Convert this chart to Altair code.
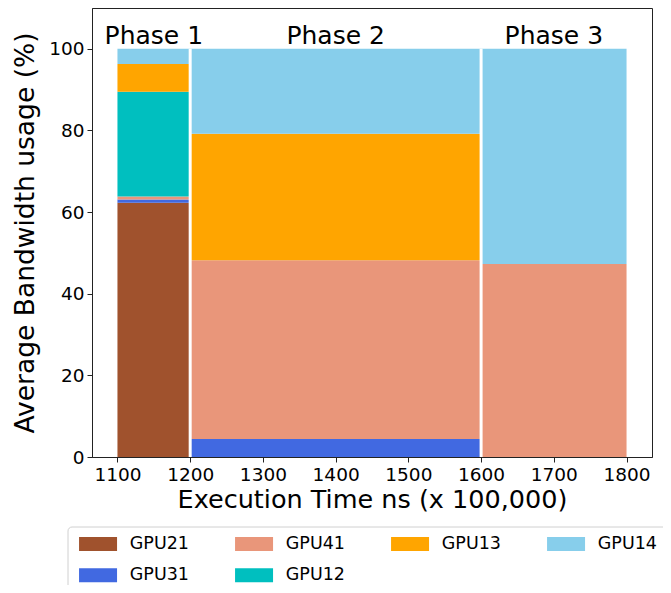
import altair as alt
import pandas as pd

# ---- data ----
phases = ["Phase 1", "Phase 2", "Phase 3"]
starts = [1100, 1200, 1600]
ends = [1200, 1600, 1800]
gpus = ["GPU21", "GPU31", "GPU41", "GPU12", "GPU13", "GPU14"]  # stack order (bottom -> top)
values = {
    "GPU21": [62.3, 0.0, 0.0],
    "GPU31": [0.8, 4.4, 0.0],
    "GPU41": [0.7, 43.8, 47.3],
    "GPU12": [25.7, 0.0, 0.0],
    "GPU13": [6.8, 31.0, 0.0],
    "GPU14": [3.7, 20.8, 52.7],
}
legend_order = ["GPU21", "GPU41", "GPU13", "GPU14", "GPU31", "GPU12"]
colors = {
    "GPU21": "#A0522D",
    "GPU31": "#4169E1",
    "GPU41": "#E9967A",
    "GPU12": "#00BFBF",
    "GPU13": "#FFA500",
    "GPU14": "#87CEEB",
}
x_ticks = [1100, 1200, 1300, 1400, 1500, 1600, 1700, 1800]
y_ticks = [0, 20, 40, 60, 80, 100]
boundaries = [1200, 1600]
label_y = 101.2

# ---- build tables ----
rows = []
for i, ph in enumerate(phases):
    base = 0.0
    for k, g in enumerate(gpus):
        v = values[g][i]
        if v > 0:
            rows.append(dict(phase=ph, gpu=g, order=k, x0=starts[i], x1=ends[i],
                             y0=base, y1=base + v))
        base += v
df = pd.DataFrame(rows)
lab = pd.DataFrame({"phase": phases,
                    "xm": [(a + b) / 2 for a, b in zip(starts, ends)]})
bnd = pd.DataFrame({"xb": boundaries})

xs = alt.Scale(domain=[1065, 1835], nice=False, zero=False)
ys = alt.Scale(domain=[0, 110], nice=False)

bars = alt.Chart(df).mark_rect(stroke=None).encode(
    x=alt.X("x0:Q", scale=xs,
            axis=alt.Axis(values=x_ticks, title="Execution Time ns (x 100,000)",
                          format="d", grid=False, titleFontSize=25.5)),
    x2="x1:Q",
    y=alt.Y("y0:Q", scale=ys,
            axis=alt.Axis(values=y_ticks, title="Average Bandwidth usage (%)",
                          grid=False, titleFontSize=26.5)),
    y2="y1:Q",
    color=alt.Color("gpu:N",
                    scale=alt.Scale(domain=legend_order,
                                    range=[colors[g] for g in legend_order]),
                    legend=alt.Legend(
                        title=None, orient="none", legendX=-2.7, legendY=526.9,
                        columns=4, direction="horizontal",
                        symbolType="M-2.714,-1L2.714,-1L2.714,1L-2.714,1Z",
                        symbolSize=196, symbolStrokeWidth=0,
                        labelFontSize=17.5, labelFont="DejaVu Sans",
                        labelColor="#000", labelOffset=23,
                        columnPadding=45, rowPadding=12.5,
                        padding=0)),
)

box = alt.Chart(pd.DataFrame({"a": [0]})).mark_rect(
    fill="white", stroke="#d0d0d0", strokeWidth=1, cornerRadius=4
).encode(x=alt.value(-24), x2=alt.value(620), y=alt.value(519), y2=alt.value(640))

rules = alt.Chart(bnd).mark_rule(color="white", strokeWidth=3).encode(
    x=alt.X("xb:Q", scale=xs),
    y=alt.datum(0, scale=ys), y2=alt.datum(100),
)

texts = alt.Chart(lab).mark_text(
    fontSize=25, font="DejaVu Sans", color="#000", baseline="alphabetic", align="center"
).encode(
    x=alt.X("xm:Q", scale=xs),
    y=alt.datum(label_y, scale=ys),
    text="phase:N",
)

chart = alt.layer(box, bars, rules, texts).properties(
    width=560, height=449,
    autosize=alt.AutoSizeParams(type="none"),
    padding={"left": 84, "top": 0, "right": 11, "bottom": 128},
).configure_view(stroke="#222", strokeWidth=1).configure_axis(
    labelFont="DejaVu Sans", titleFont="DejaVu Sans",
    labelFontSize=18.5, titleFontWeight="normal",
    labelColor="#000", titleColor="#000",
    domainColor="#222", tickColor="#222", tickSize=5, labelPadding=3,
).configure_axisX(titlePadding=4, labelFlush=False).configure_axisY(titlePadding=9)

chart.save("out.html", embed_options={"renderer": "svg", "actions": False})
